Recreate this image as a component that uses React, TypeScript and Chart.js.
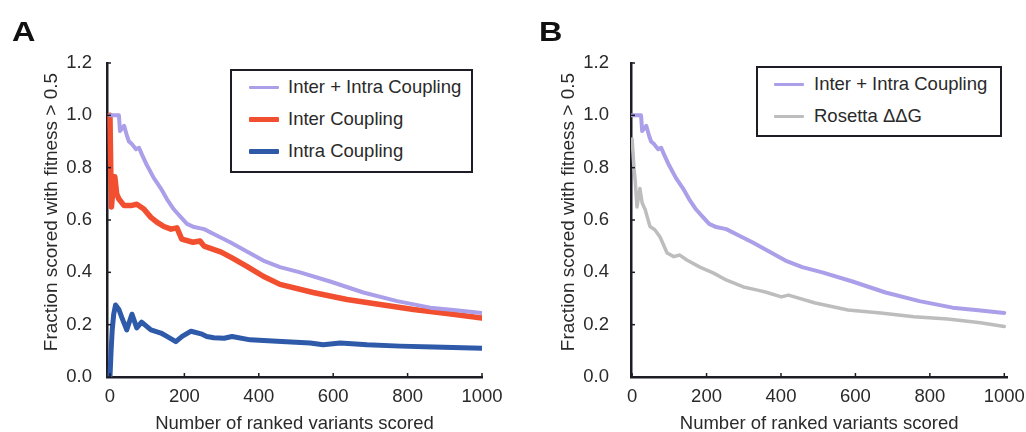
import React, { useEffect, useRef } from "react";
import { Chart, registerables } from "chart.js";

Chart.register(...registerables);

// ---- Data ----
const interIntraX = [0, 24, 27, 38, 46, 51, 59, 70, 78, 86, 99, 118, 137, 153, 172, 191, 207, 226, 253, 288, 323, 368, 412, 457, 511, 592, 681, 772, 861, 930, 1000];
const interIntraY = [1.0, 1.0, 0.94, 0.96, 0.92, 0.9, 0.89, 0.87, 0.876, 0.85, 0.81, 0.76, 0.72, 0.68, 0.64, 0.61, 0.585, 0.573, 0.565, 0.54, 0.515, 0.48, 0.445, 0.42, 0.4, 0.365, 0.323, 0.29, 0.265, 0.255, 0.245];

const interX = [0, 2, 4, 8, 13, 18, 24, 38, 56, 72, 91, 110, 126, 145, 164, 180, 193, 223, 242, 253, 299, 328, 368, 412, 457, 546, 637, 726, 816, 906, 1000];
const interY = [1.0, 0.8, 0.65, 0.72, 0.765, 0.7, 0.68, 0.655, 0.655, 0.66, 0.642, 0.61, 0.592, 0.575, 0.565, 0.57, 0.527, 0.515, 0.52, 0.5, 0.477, 0.455, 0.423, 0.385, 0.354, 0.323, 0.296, 0.277, 0.258, 0.243, 0.225];

const intraX = [0, 3, 6, 10, 15, 24, 32, 45, 59, 72, 85, 110, 137, 153, 177, 194, 218, 245, 260, 279, 307, 328, 377, 449, 538, 573, 619, 691, 780, 870, 1000];
const intraY = [0.0, 0.1, 0.18, 0.24, 0.275, 0.258, 0.227, 0.18, 0.24, 0.188, 0.21, 0.18, 0.168, 0.155, 0.135, 0.155, 0.175, 0.165, 0.155, 0.15, 0.148, 0.155, 0.142, 0.137, 0.13, 0.123, 0.13, 0.123, 0.118, 0.115, 0.11];

const rosettaX = [0, 5, 8, 13, 21, 27, 35, 48, 61, 75, 94, 112, 128, 147, 182, 219, 254, 299, 334, 358, 401, 420, 492, 580, 668, 757, 848, 936, 1000];
const rosettaY = [0.91, 0.8, 0.755, 0.65, 0.72, 0.665, 0.64, 0.575, 0.563, 0.535, 0.474, 0.46, 0.466, 0.447, 0.42, 0.397, 0.37, 0.344, 0.333, 0.325, 0.306, 0.313, 0.283, 0.256, 0.245, 0.23, 0.222, 0.207, 0.193];

const xTickValues = [0, 200, 400, 600, 800, 1000];
const yTickValues = [0, 0.2, 0.4, 0.6, 0.8, 1.0, 1.2];

const xTitle = "Number of ranked variants scored";
const yTitle = "Fraction scored with fitness > 0.5";

const legendA = ["Inter + Intra Coupling", "Inter Coupling", "Intra Coupling"];
const legendB = ["Inter + Intra Coupling", "Rosetta \u0394\u0394G"];

const PURPLE = "#aa9fe8";
const RED = "#f14f2f";
const BLUE = "#2e5aa9";
const GRAY = "#bdbdbd";
const AXIS = "#1d1d26";
const TEXT = "#2a2a2a";
const FONT = "'Liberation Sans', Arial, sans-serif";
const FS = 18.5;

const pts = (xs: number[], ys: number[]) => xs.map((x, i) => ({ x, y: ys[i] }));

const innerTicks = {
  id: "innerTicks",
  afterDraw(chart: any, _args: any, opts: any) {
    const { ctx, chartArea } = chart;
    const x = chart.scales.x;
    const y = chart.scales.y;
    ctx.save();
    ctx.strokeStyle = AXIS;
    ctx.lineWidth = 1.5;
    x.ticks.forEach((t: any) => {
      const px = x.getPixelForValue(t.value);
      ctx.beginPath();
      ctx.moveTo(px, chartArea.bottom);
      ctx.lineTo(px, chartArea.bottom - 4);
      ctx.stroke();
    });
    y.ticks.forEach((t: any) => {
      const py = y.getPixelForValue(t.value);
      ctx.beginPath();
      ctx.moveTo(chartArea.left, py);
      ctx.lineTo(chartArea.left + 4, py);
      ctx.stroke();
    });
    // rotated y-axis title
    ctx.translate(opts.titleX, opts.titleY);
    ctx.rotate(-Math.PI / 2);
    ctx.fillStyle = TEXT;
    ctx.font = `${opts.size}px ${FONT}`;
    ctx.textAlign = "center";
    ctx.textBaseline = "middle";
    ctx.fillText(yTitle, 0, 0);
    ctx.restore();
  },
};

type PanelCfg = {
  datasets: any[];
  axisWidth: number;
  padRight: number;
  xMin: number;
  xMax: number;
  yTickPad: number;
  titleX: number;
};

function makeConfig(p: PanelCfg): any {
  return {
    type: "line",
    data: { datasets: p.datasets },
    plugins: [innerTicks],
    options: {
      animation: false,
      responsive: false,
      layout: { padding: { top: 63, right: p.padRight, left: 0, bottom: 0 } },
      plugins: {
        legend: { display: false },
        tooltip: { enabled: false },
        innerTicks: { titleX: p.titleX, titleY: 212, size: 19 },
      },
      elements: { point: { radius: 0 }, line: { tension: 0, borderJoinStyle: "round", borderCapStyle: "round" } },
      scales: {
        x: {
          type: "linear",
          min: p.xMin,
          max: p.xMax,
          afterFit: (s: any) => { s.height = 55; },
          afterBuildTicks: (s: any) => { s.ticks = xTickValues.map((v) => ({ value: v })); },
          grid: { display: false },
          border: { display: true, color: AXIS, width: 2.5 },
          ticks: { color: TEXT, padding: 1, maxRotation: 0, autoSkip: false, font: { family: FONT, size: FS }, callback: (v: any) => String(v) },
          title: { display: true, text: xTitle, color: TEXT, padding: { top: 0, bottom: -1.5 }, font: { family: FONT, size: FS, lineHeight: 1 } },
        },
        y: {
          type: "linear",
          min: 0,
          max: 1.2,
          afterFit: (s: any) => { s.width = p.axisWidth; },
          afterBuildTicks: (s: any) => { s.ticks = yTickValues.map((v) => ({ value: v })); },
          grid: { display: false },
          border: { display: true, color: AXIS, width: 2.5 },
          ticks: { color: TEXT, padding: p.yTickPad, font: { family: FONT, size: FS }, callback: (v: any) => Number(v).toFixed(1) },
          title: { display: false },
        },
      },
    },
  };
}

function Panel({ cfg, left }: { cfg: PanelCfg; left: number }) {
  const ref = useRef<HTMLCanvasElement | null>(null);
  useEffect(() => {
    if (!ref.current) return;
    const chart = new Chart(ref.current, makeConfig(cfg));
    return () => chart.destroy();
  }, []);
  return (
    <canvas
      ref={ref}
      width={513}
      height={432}
      style={{ position: "absolute", left, top: 0, width: 513, height: 432 }}
    />
  );
}

function Legend({ items, colors, widths, left, top, width, padBottom, padLeft, gap }: any) {
  return (
    <div
      style={{
        position: "absolute",
        left,
        top,
        width,
        boxSizing: "border-box",
        border: `2px solid ${AXIS}`,
        background: "#fff",
        paddingLeft: padLeft,
        paddingBottom: padBottom,
        fontFamily: FONT,
        fontSize: FS,
        color: TEXT,
      }}
    >
      {items.map((t: string, i: number) => (
        <div key={i} style={{ height: 32, display: "flex", alignItems: "center", whiteSpace: "nowrap" }}>
          <div style={{ width: 30, height: widths[i], background: colors[i], marginRight: gap, borderRadius: 1 }} />
          <span>{t}</span>
        </div>
      ))}
    </div>
  );
}

export default function App() {
  const cfgA: PanelCfg = {
    datasets: [
      { label: legendA[0], data: pts(interIntraX, interIntraY), borderColor: PURPLE, borderWidth: 4 },
      { label: legendA[1], data: pts(interX, interY), borderColor: RED, borderWidth: 5.5 },
      { label: legendA[2], data: pts(intraX, intraY), borderColor: BLUE, borderWidth: 5 },
    ],
    axisWidth: 107,
    padRight: 31,
    xMin: -8,
    xMax: 1000,
    yTickPad: 7,
    titleX: 52,
  };
  const cfgB: PanelCfg = {
    datasets: [
      { label: legendB[0], data: pts(interIntraX, interIntraY), borderColor: PURPLE, borderWidth: 4 },
      { label: legendB[1], data: pts(rosettaX, rosettaY), borderColor: GRAY, borderWidth: 3.5 },
    ],
    axisWidth: 118,
    padRight: 16,
    xMin: -3,
    xMax: 1008,
    yTickPad: 14,
    titleX: 56,
  };
  const letter = (t: string, left: number) => (
    <div style={{ position: "absolute", left, top: 19, fontFamily: FONT, fontWeight: "bold", fontSize: 27, lineHeight: 1, color: "#111", transform: "scaleX(1.2)", transformOrigin: "left top" }}>{t}</div>
  );
  return (
    <div style={{ position: "absolute", left: 0, top: 0, width: 1026, height: 432, background: "#fff", overflow: "hidden" }}>
      <Panel cfg={cfgA} left={0} />
      <Panel cfg={cfgB} left={513} />
      {letter("A", 12)}
      {letter("B", 539)}
      <Legend items={legendA} colors={[PURPLE, RED, BLUE]} widths={[3, 5, 5]} left={230} top={69} width={243} padBottom={4} padLeft={17} gap={9} />
      <Legend items={legendB} colors={[PURPLE, GRAY]} widths={[3, 3]} left={756} top={66} width={246} padBottom={3} padLeft={16} gap={10} />
    </div>
  );
}
